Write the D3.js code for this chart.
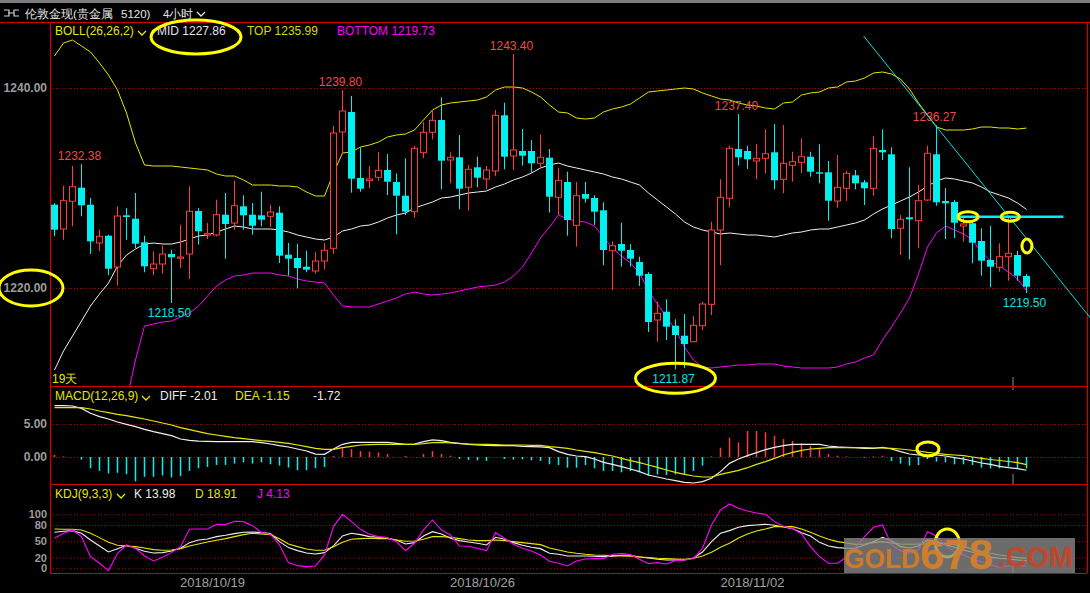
<!DOCTYPE html>
<html>
<head>
<meta charset="utf-8">
<script src="https://cdn.jsdelivr.net/npm/d3@7"></script>
<style>
  html, body { margin: 0; padding: 0; background: #000; overflow: hidden; }
  text { font-family: "Liberation Sans", Arial, sans-serif; }
</style>
</head>
<body>
<svg id="chart" width="1090" height="593"></svg>
<script>
// 4h candles
const open = [1228.33,1225.90,1228.67,1230.03,1228.33,1224.50,1225.23,1222.10,1227.27,1226.93,1224.57,
  1221.93,1222.40,1223.40,1222.97,1223.40,1227.70,1225.30,1225.30,1227.33,1226.50,1228.17,
  1227.33,1227.27,1227.17,1227.53,1223.33,1223.00,1222.13,1221.70,1222.70,1223.97,1235.60,
  1237.60,1231.00,1230.73,1231.07,1231.80,1230.60,1229.23,1227.63,1233.53,1235.57,1236.80,
  1232.80,1233.07,1230.07,1232.07,1230.90,1231.70,1237.27,1233.20,1233.70,1233.70,1232.47,
  1233.03,1229.07,1230.60,1226.27,1229.40,1229.00,1227.77,1223.73,1224.40,1223.80,1222.60,
  1221.40,1216.80,1217.63,1216.23,1215.23,1214.63,1216.23,1218.37,1225.80,1228.97,1233.90,
  1233.70,1232.70,1232.97,1233.57,1230.87,1232.27,1232.57,1233.13,1231.57,1231.57,1228.70,
  1229.97,1231.27,1230.57,1229.97,1233.80,1233.37,1225.97,1227.07,1226.73,1228.80,1233.37,
  1228.70,1228.60,1226.20,1226.47,1224.70,1222.80,1222.07,1223.13,1223.30,1221.20]
const high = [1228.50,1230.23,1232.20,1232.38,1229.00,1225.83,1225.33,1228.17,1228.00,1229.50,1225.23,
  1223.67,1224.23,1223.83,1226.33,1230.17,1228.00,1226.50,1228.83,1229.50,1230.73,1229.27,
  1228.50,1229.63,1228.33,1228.17,1224.50,1224.43,1223.73,1223.63,1224.50,1236.23,1239.80,
  1239.20,1234.07,1232.20,1233.57,1233.40,1231.47,1232.97,1234.20,1236.57,1237.80,1239.07,
  1233.57,1235.30,1232.30,1233.13,1232.20,1237.80,1238.53,1243.40,1235.90,1234.80,1235.37,
  1233.90,1232.03,1231.63,1230.63,1230.60,1229.27,1228.57,1224.67,1226.53,1224.37,1223.13,
  1221.57,1218.63,1218.87,1216.87,1217.40,1217.20,1218.63,1226.63,1230.87,1234.23,1237.40,
  1234.23,1234.40,1235.87,1236.40,1236.30,1233.63,1234.97,1233.63,1234.37,1232.70,1233.30,
  1231.73,1231.80,1230.80,1235.20,1235.87,1234.07,1227.30,1232.07,1230.33,1234.23,1236.27,
  1230.00,1228.80,1227.13,1226.80,1225.97,1226.20,1224.47,1227.13,1223.70,1221.40]
const low = [1225.17,1224.83,1226.17,1227.17,1223.40,1223.67,1221.27,1220.27,1224.83,1224.00,1221.57,
  1221.27,1221.43,1218.50,1222.00,1220.90,1224.33,1224.90,1225.17,1222.93,1225.83,1225.83,
  1225.33,1226.17,1226.10,1222.50,1221.23,1219.97,1221.57,1221.43,1221.83,1223.43,1233.33,
  1229.53,1229.63,1229.97,1230.73,1229.30,1225.37,1227.30,1227.03,1232.97,1234.87,1229.87,
  1230.47,1227.87,1227.73,1230.07,1229.87,1231.20,1231.87,1231.80,1232.23,1231.53,1231.97,
  1227.53,1227.30,1225.23,1224.13,1228.53,1226.30,1222.27,1219.80,1222.13,1222.13,1220.20,
  1215.60,1214.63,1214.80,1211.87,1212.00,1214.57,1215.80,1217.30,1222.27,1228.07,1232.23,
  1231.90,1230.87,1231.47,1229.87,1229.47,1230.63,1231.47,1231.13,1230.47,1226.73,1228.03,
  1228.70,1229.87,1228.30,1229.23,1232.80,1224.97,1223.30,1222.87,1223.97,1228.70,1228.23,
  1224.90,1225.00,1224.63,1222.47,1221.23,1220.07,1221.63,1220.73,1220.73,1219.50]
const close = [1225.83,1228.73,1230.13,1228.27,1224.67,1225.17,1221.93,1227.20,1227.10,1224.43,1222.17,
  1222.40,1223.40,1223.07,1223.10,1227.67,1225.67,1225.43,1227.33,1226.40,1228.23,1227.27,
  1226.23,1226.83,1227.60,1223.23,1222.93,1222.00,1221.83,1222.70,1223.77,1235.50,1237.70,
  1230.93,1229.93,1230.90,1231.77,1230.63,1229.23,1227.63,1233.97,1235.57,1236.77,1232.73,
  1233.07,1229.93,1231.87,1231.03,1231.80,1237.27,1233.13,1233.80,1233.23,1232.47,1233.07,
  1229.13,1230.77,1226.80,1229.23,1228.93,1227.63,1223.80,1224.23,1223.73,1222.93,1221.23,
  1216.60,1217.47,1216.13,1215.30,1214.40,1216.27,1218.40,1225.80,1229.07,1233.97,1233.07,
  1232.87,1232.97,1233.43,1230.77,1232.47,1232.63,1233.13,1231.63,1231.43,1228.73,1230.07,
  1231.47,1230.47,1229.97,1233.97,1233.57,1225.90,1226.87,1226.87,1228.73,1233.47,1228.57,
  1228.47,1226.53,1226.40,1224.53,1222.73,1222.13,1223.13,1223.47,1221.23,1220.13]

// BOLL(26,26,2)
const bollTop = [1243.2,1244.5,1244.8,1244.2,1243.6,1242.5,1241.3,1239.8,1237.5,1234.5,1232.3,
  1232.2,1232.2,1232.2,1232.1,1232.0,1231.9,1231.8,1231.4,1231.2,1231.2,1230.8,
  1230.3,1230.3,1230.3,1230.2,1230.2,1230.1,1229.6,1229.2,1229.2,1231.5,1233.5,
  1233.6,1234.1,1234.3,1234.6,1235.1,1235.3,1235.4,1235.8,1236.8,1237.8,1238.3,
  1238.5,1238.6,1238.7,1238.8,1239.1,1239.8,1240.1,1240.1,1240.0,1239.6,1239.1,
  1238.3,1237.6,1237.5,1237.0,1236.9,1237.0,1237.6,1237.9,1238.1,1238.4,1239.0,
  1239.6,1239.7,1239.8,1239.9,1240.0,1239.9,1239.5,1239.2,1238.9,1238.8,1238.5,
  1238.3,1238.2,1238.0,1237.9,1238.5,1238.6,1239.3,1239.5,1239.6,1240.0,1240.1,
  1240.6,1240.7,1241.0,1241.5,1241.6,1241.4,1240.9,1239.9,1238.5,1237.3,1236.1,
  1235.8,1235.8,1235.8,1235.9,1236.1,1236.1,1236.0,1236.0,1235.9,1235.99]
const bollMid = [1211.8,1213.7,1215.2,1216.7,1218.2,1219.4,1220.5,1222.2,1223.3,1223.9,1224.4,
  1224.5,1224.4,1224.4,1224.6,1224.9,1225.2,1225.3,1225.6,1225.9,1226.2,1226.1,
  1225.9,1225.9,1225.9,1225.8,1225.6,1225.3,1225.1,1224.9,1224.8,1225.1,1225.7,
  1225.9,1226.2,1226.3,1226.6,1227.0,1227.3,1227.5,1228.0,1228.3,1228.6,1229.0,
  1229.1,1229.3,1229.5,1229.6,1229.7,1230.1,1230.4,1230.8,1231.1,1231.5,1232.0,
  1232.3,1232.5,1232.2,1232.0,1231.8,1231.6,1231.4,1231.1,1230.9,1230.6,1230.3,
  1229.5,1228.8,1228.1,1227.4,1226.6,1226.1,1225.8,1225.6,1225.4,1225.5,1225.4,
  1225.3,1225.3,1225.2,1225.1,1225.3,1225.5,1225.6,1225.8,1225.9,1225.9,1226.1,
  1226.3,1226.5,1226.8,1227.4,1227.9,1228.3,1228.7,1229.1,1229.6,1230.2,1230.7,
  1231.0,1230.9,1230.7,1230.5,1230.1,1229.6,1229.3,1229.0,1228.5,1227.86]
const bollBot = [null,null,null,null,null,null,null,null,1208.7,1212.8,1216.2,
  1216.4,1216.6,1216.7,1217.1,1217.5,1218.2,1219.2,1220.2,1220.8,1221.2,1221.3,
  1221.5,1221.5,1221.5,1221.3,1221.2,1220.9,1220.7,1220.6,1220.5,1219.3,1218.2,
  1218.1,1218.1,1218.1,1218.4,1218.7,1219.0,1219.4,1219.6,1219.4,1219.3,1219.4,
  1219.5,1219.7,1219.9,1220.1,1220.2,1220.3,1220.6,1221.2,1222.1,1223.5,1225.0,
  1226.1,1227.3,1226.9,1226.7,1226.6,1226.2,1225.1,1224.0,1223.2,1222.5,1221.5,
  1219.7,1218.4,1217.1,1215.8,1214.1,1212.8,1212.1,1212.0,1212.1,1212.2,1212.3,
  1212.3,1212.4,1212.4,1212.4,1212.2,1212.1,1212.0,1212.0,1212.0,1212.0,1212.1,
  1212.4,1212.6,1213.0,1213.3,1214.8,1216.1,1217.5,1219.0,1221.4,1224.1,1225.5,
  1226.2,1225.8,1225.4,1224.8,1223.6,1222.7,1222.2,1221.6,1220.9,1219.73]

// MACD(12,26,9)
const macdDiff = [7.78,7.78,7.73,7.37,6.62,6.11,5.76,5.30,4.95,4.60,4.19,
  3.84,3.54,3.23,2.73,2.53,2.42,2.37,2.32,2.32,2.32,2.32,
  2.32,2.17,1.97,1.72,1.52,1.21,0.91,0.45,0.40,1.21,1.92,
  2.22,2.22,2.22,2.22,2.22,2.07,1.92,1.97,2.32,2.58,2.47,
  2.22,2.07,1.92,1.82,1.77,1.72,1.72,1.72,1.62,1.57,1.52,
  1.41,0.81,0.40,0.15,0.05,-0.30,-0.81,-1.11,-1.46,-1.82,-2.22,
  -2.73,-3.03,-3.33,-3.59,-3.84,-3.94,-3.74,-3.23,-2.22,-0.96,-0.30,
  0.20,0.66,1.11,1.46,1.72,1.92,1.92,1.92,1.92,1.67,1.52,
  1.46,1.41,1.31,1.31,1.46,1.21,0.81,0.45,0.30,0.30,0.30,
  0.15,-0.10,-0.30,-0.61,-0.91,-1.11,-1.41,-1.62,-1.77,-2.01]
const macdDea = [7.47,7.47,7.47,7.47,7.27,6.97,6.72,6.46,6.26,6.01,5.76,
  5.45,5.15,4.85,4.44,4.14,3.84,3.54,3.33,3.13,2.93,2.78,
  2.63,2.47,2.37,2.22,2.07,1.82,1.57,1.31,1.16,1.16,1.41,
  1.62,1.82,1.87,1.92,1.92,1.92,1.92,1.92,2.02,2.17,2.22,
  2.12,2.02,1.97,1.92,1.92,1.87,1.82,1.82,1.82,1.77,1.77,
  1.57,1.46,1.31,1.06,0.86,0.66,0.40,0.15,-0.20,-0.56,-0.86,
  -1.21,-1.57,-1.97,-2.32,-2.63,-2.88,-3.03,-3.03,-2.63,-2.32,-2.02,
  -1.62,-1.11,-0.71,-0.20,0.30,0.71,1.01,1.21,1.31,1.41,1.41,
  1.41,1.41,1.41,1.36,1.36,1.31,1.21,1.06,0.91,0.71,0.56,
  0.40,0.30,0.20,0.00,-0.20,-0.38,-0.53,-0.68,-0.85,-1.15]
const macdHist = [0.3,0.1,0,-0.4,-1.7,-2.1,-2.5,-2.4,-2.6,-3.7,-3.0,
  -3.0,-2.8,-3.1,-2.9,-2.1,-1.7,-1.5,-1.2,-1.2,-1.0,-0.8,
  -1.0,-0.8,-1.1,-1.3,-1.6,-2.0,-2.0,-1.7,-1.5,0.15,1.3,
  1.2,0.9,0.8,0.7,0.45,0,0.15,0,0.45,0.9,0.45,
  0.2,-0.3,-0.45,-0.5,-0.6,0,-0.3,-0.4,-0.35,-0.5,-0.6,
  -1.11,-1.21,-1.62,-1.62,-1.21,-1.72,-2.12,-2.12,-2.32,-2.12,-2.32,
  -2.83,-2.63,-2.73,-2.63,-2.63,-2.12,-1.31,0.1,1.41,2.93,2.22,
  3.94,3.94,3.74,3.23,2.73,2.42,2.07,1.67,1.16,0.45,0.20,
  0.10,0,-0.10,0.10,0.20,-0.61,-1.01,-1.31,-1.21,-0.30,-0.71,
  -0.81,-1.11,-1.11,-1.21,-1.62,-1.72,-1.72,-1.46,-1.72,-1.72]

// KDJ(9,3,3)
const kdjK = [66.7,68.5,69.8,64.8,52.5,41.4,30.2,36.4,42.6,37.0,31.5,
  28.4,29.0,32.1,37.0,47.5,52.5,54.3,58.6,61.1,64.2,66.7,
  67.3,66.0,64.2,49.4,38.3,32.7,28.4,26.5,29.0,41.4,59.9,
  64.8,62.3,58.6,57.4,55.6,52.5,45.1,47.5,59.9,67.9,63.6,
  55.6,51.2,48.8,46.3,43.2,57.4,53.7,47.5,42.6,38.9,36.4,
  27.8,25.9,22.8,22.8,22.8,22.2,21.6,22.2,24.1,24.1,21.0,
  19.1,16.7,15.4,15.4,15.4,19.1,30.2,49.4,64.8,69.8,75.9,
  79.0,80.2,81.5,79.6,76.5,73.5,66.0,59.9,48.1,41.4,38.3,
  37.0,37.0,43.2,49.4,57.4,50.6,40.1,37.7,41.4,52.5,49.4,
  43.8,38.9,34.0,29.6,24.7,20.4,18.5,17.3,15.4,13.98]
const kdjD = [72.8,72.2,72.2,71.0,64.8,56.8,48.1,42.6,41.4,40.1,37.7,
  34.6,33.3,34.0,36.4,41.4,45.1,48.8,51.9,54.9,58.6,62.3,
  64.8,63.6,62.3,54.9,45.1,40.1,35.8,33.3,33.3,40.1,48.1,
  53.7,54.9,55.6,54.9,54.9,52.5,50.0,50.6,53.7,58.6,58.6,
  57.4,54.9,52.5,51.2,51.2,52.5,51.2,49.4,47.5,45.7,43.8,
  37.7,34.0,30.2,27.8,25.9,24.7,24.1,23.5,22.8,22.2,21.0,
  19.8,18.5,17.9,17.3,16.7,18.5,22.8,29.6,38.9,46.3,56.2,
  63.6,69.1,72.8,77.2,77.2,77.2,72.8,66.7,59.9,53.7,49.4,
  46.9,44.4,45.1,47.5,49.4,46.9,45.1,44.4,45.1,45.1,45.7,
  46.3,43.8,40.1,35.8,31.5,27.8,24.7,22.2,19.8,18.91]
const kdjJ = [55.6,64.8,71.0,58.6,21.6,9.3,-4.3,27.8,43.2,37.0,22.8,
  13.6,20.4,29.0,40.1,72.2,72.8,72.8,81.5,80.9,87.0,86.4,
  79.0,66.0,63.0,43.2,10.5,4.9,3.1,4.3,24.7,77.2,100.0,
  86.4,72.2,63.0,58.6,56.8,49.4,32.7,46.3,71.0,89.5,71.0,
  61.7,41.4,40.7,37.0,32.7,66.0,55.6,44.4,37.0,32.1,24.7,
  13.0,9.3,4.3,13.6,17.3,17.9,17.9,25.9,27.2,25.3,16.7,
  8.6,10.5,8.0,14.2,15.4,17.9,37.0,80.2,108.0,119.1,111.1,
  106.2,102.5,100.0,86.4,77.8,73.5,63.6,40.1,21.6,9.3,9.3,
  20.4,37.7,58.6,75.9,80.2,43.2,32.7,27.8,34.0,67.9,59.9,
  42.0,30.9,24.7,17.3,12.3,6.2,1.9,4.3,4.3,4.13]

const dateLabels = ['2018/10/19', '2018/10/26', '2018/11/02']
const dateIdx = [18, 48, 78]
const priceTicks = [1240, 1220]
const macdTicks = [5, 0]
const kdjTicks = [100, 80, 50, 20, 0]
const highMarks = [3, 32, 51, 76, 98]
const lowMarks = [13, 69, 108]

const N = close.length
const svg = d3.select('#chart')
const left = 50, right = 1087
const panels = {main: [22, 386], macd: [386, 484], kdj: [484, 573]}

const x = d3.scaleLinear().domain([0, N]).range([left, left + 9 * N])
const cx = i => x(i + 0.5)
const yP = d3.scaleLinear().domain([1220, 1240]).range([288, 88])
const yM = d3.scaleLinear().domain([0, 5]).range([457, 424])
const yK = d3.scaleLinear().domain([0, 100]).range([568.3, 514.3])

const RED = '#ff3c3c', CYAN = '#00f0f0', YEL = '#e6e600', MAG = '#ff00ff', WHITE = '#f0f0f0'
const CJK = '"Noto Sans CJK SC", sans-serif'

//background + frame
svg.append('rect').attr('width', 1090).attr('height', 593).attr('fill', '#000')
svg.append('rect').attr('width', 1090).attr('height', 3).attr('fill', '#7c7c7c')

const defs = svg.append('defs')
Object.entries(panels).forEach(([k, [t, b]]) => {
  defs.append('clipPath').attr('id', 'clip-' + k)
    .append('rect').attr('x', left).attr('y', t + 1).attr('width', right - left).attr('height', b - t - 1)
})

//gridlines + left labels through d3 axes
function yAxis(scale, ticks, fmt, size) {
  const g = svg.append('g').attr('transform', `translate(${left},0)`)
    .call(d3.axisLeft(scale).tickValues(ticks).tickFormat(fmt).tickSize(-(right - left)).tickPadding(3))
  g.select('.domain').remove()
  g.selectAll('line').attr('stroke', '#b40000').attr('stroke-dasharray', '1,2')
  g.selectAll('text').attr('fill', '#9c9c9c').attr('font-weight', 'bold')
    .attr('font-size', size).attr('font-family', '"Liberation Sans", Arial, sans-serif')
  return g
}
yAxis(yP, priceTicks, d3.format('.2f'), 12)
yAxis(yM, macdTicks, d3.format('.2f'), 12)
yAxis(yK, kdjTicks, d3.format('d'), 11)

//date axis
const xa = svg.append('g').attr('transform', `translate(0,${panels.kdj[1]})`)
  .call(d3.axisBottom(x).tickValues(dateIdx).tickFormat((d, i) => dateLabels[i]).tickSize(0).tickPadding(5))
xa.select('.domain').remove()
xa.selectAll('text').attr('fill', '#a0a0a0').attr('font-size', 13)
  .attr('font-family', '"Liberation Sans", Arial, sans-serif')

//panel borders
const border = svg.append('g').attr('stroke', '#d20000').attr('stroke-width', 1.2)
border.append('line').attr('x1', 0).attr('x2', 1090).attr('y1', 22.5).attr('y2', 22.5)
;[panels.main[1], panels.macd[1], panels.kdj[1]].forEach(y => {
  border.append('line').attr('x1', left).attr('x2', right).attr('y1', y + 0.5).attr('y2', y + 0.5)
})
border.append('line').attr('x1', left + 0.5).attr('x2', left + 0.5).attr('y1', 22).attr('y2', panels.kdj[1])
border.append('line').attr('x1', right + 0.5).attr('x2', right + 0.5).attr('y1', 22).attr('y2', panels.kdj[1])

//cursor ticks
const cur = x(N - 2)
svg.append('g').attr('stroke', '#8a8a8a').selectAll('line')
  .data([[377, 386], [387, 390], [474, 484], [565, 573]]).join('line')
  .attr('x1', cur).attr('x2', cur).attr('y1', d => d[0]).attr('y2', d => d[1])

//main panel
const main = svg.append('g').attr('clip-path', 'url(#clip-main)')
const idx = d3.range(N)
const lineOf = (arr, ys) => d3.line().defined(i => arr[i] != null).x(i => cx(i)).y(i => ys(arr[i]))

;[[bollTop, YEL], [bollMid, WHITE], [bollBot, MAG]].forEach(([arr, c]) => {
  main.append('path').attr('d', lineOf(arr, yP)(idx)).attr('fill', 'none').attr('stroke', c).attr('stroke-width', 1)
})

const up = i => close[i] >= open[i]
const candles = main.append('g')
candles.selectAll('line.wick-hi').data(idx).join('line')
  .attr('x1', i => cx(i)).attr('x2', i => cx(i))
  .attr('y1', i => yP(high[i]))
  .attr('y2', i => up(i) ? yP(close[i]) : yP(low[i]))
  .attr('stroke', i => up(i) ? RED : CYAN)
candles.selectAll('line.wick-lo').data(idx.filter(up)).join('line')
  .attr('x1', i => cx(i)).attr('x2', i => cx(i))
  .attr('y1', i => yP(open[i])).attr('y2', i => yP(low[i]))
  .attr('stroke', RED)
candles.selectAll('rect').data(idx).join('rect')
  .attr('x', i => up(i) ? cx(i) - 3 : cx(i) - 3.5)
  .attr('width', i => up(i) ? 6 : 7)
  .attr('y', i => yP(Math.max(open[i], close[i])))
  .attr('height', i => Math.max(1, yP(Math.min(open[i], close[i])) - yP(Math.max(open[i], close[i]))))
  .attr('fill', i => up(i) ? '#000' : CYAN)
  .attr('stroke', i => up(i) ? RED : 'none')

const lab = svg.append('g').attr('font-size', 12).attr('text-anchor', 'middle')
lab.selectAll('text.hi').data(highMarks).join('text')
  .attr('x', i => cx(i) - 2).attr('y', i => yP(high[i]) - 4)
  .attr('fill', '#f04848').text(i => high[i].toFixed(2))
lab.selectAll('text.lo').data(lowMarks).join('text')
  .attr('x', i => cx(i) - 2).attr('y', i => yP(low[i]) + 14)
  .attr('fill', '#00e6e6').text(i => low[i].toFixed(2))

svg.append('text').attr('x', 52).attr('y', 383).attr('font-size', 12).attr('fill', YEL).text('19天')

//MACD panel
const macd = svg.append('g').attr('clip-path', 'url(#clip-macd)')
macd.selectAll('line').data(idx).join('line')
  .attr('x1', i => cx(i)).attr('x2', i => cx(i))
  .attr('y1', yM(0)).attr('y2', i => yM(macdHist[i]))
  .attr('stroke', i => macdHist[i] >= 0 ? RED : CYAN).attr('stroke-width', 1.5)
;[[macdDiff, WHITE], [macdDea, YEL]].forEach(([arr, c]) => {
  macd.append('path').attr('d', lineOf(arr, yM)(idx)).attr('fill', 'none').attr('stroke', c).attr('stroke-width', 1.2)
})

//KDJ panel
const kdj = svg.append('g').attr('clip-path', 'url(#clip-kdj)')
;[[kdjK, WHITE], [kdjD, YEL], [kdjJ, MAG]].forEach(([arr, c]) => {
  kdj.append('path').attr('d', lineOf(arr, yK)(idx)).attr('fill', 'none').attr('stroke', c).attr('stroke-width', 1.1)
})

//legends
function legend(y, items) {
  const g = svg.append('g').attr('font-size', 12)
  items.forEach(([tx, lx, c]) => g.append('text').attr('x', lx).attr('y', y).attr('fill', c).text(tx))
  return g
}
function chevron(x0, y0, c) {
  svg.append('path').attr('d', `M${x0},${y0} l4,4 l4,-4`).attr('fill', 'none').attr('stroke', c).attr('stroke-width', 1.3)
}
legend(35, [['BOLL(26,26,2)', 55, YEL], ['MID ' + bollMid[N - 1].toFixed(2), 157, '#e0e0f0'],
  ['TOP ' + bollTop[N - 1].toFixed(2), 247, '#d4dc00'], ['BOTTOM ' + bollBot[N - 1].toFixed(2), 337, MAG]])
chevron(138, 31, YEL)
legend(400, [['MACD(12,26,9)', 55, YEL], ['DIFF ' + macdDiff[N - 1].toFixed(2), 160, WHITE],
  ['DEA ' + macdDea[N - 1].toFixed(2), 235, YEL], [macdHist[N - 1].toFixed(2), 313, WHITE]])
chevron(142, 396, YEL)
legend(498, [['KDJ(9,3,3)', 55, YEL], ['K ' + kdjK[N - 1].toFixed(2), 134, WHITE],
  ['D ' + kdjD[N - 1].toFixed(2), 195, YEL], ['J ' + kdjJ[N - 1].toFixed(2), 257, MAG]])
chevron(117, 494, YEL)

//header
svg.append('path').attr('d', 'M4,10h5v6h-5 M8,13h6 M19,10h-5v6h5')
  .attr('fill', 'none').attr('stroke', '#d0d0d0').attr('stroke-width', 1.2)
const head = svg.append('g').attr('font-size', 11.5).attr('fill', '#e6e6e6').attr('font-family', CJK)
;[['伦敦金现', 25], ['(贵金属', 73], ['5120)', 121], ['4小时', 163]].forEach(([t, hx]) => {
  head.append('text').attr('x', hx).attr('y', 17.5).text(t)
})
chevron(197, 12, '#e6e6e6')

//hand-drawn annotations
const ann = svg.append('g')
ann.append('line').attr('x1', x(90.4)).attr('y1', yP(1245.2)).attr('x2', x(115.6)).attr('y2', yP(1217.0))
  .attr('stroke', '#00e0e0').attr('stroke-width', 1)
ann.append('line').attr('x1', x(100.9)).attr('y1', yP(1227.13)).attr('x2', x(112.6)).attr('y2', yP(1227.13))
  .attr('stroke', CYAN).attr('stroke-width', 2.5)

const rings = [
  [196, 37, 45, 17],
  [31, yP(1220), 32, 18],
  [cx(69), yP(low[69]) + 9, 40, 15],
  [x(102), yP(1227.13), 10, 5],
  [x(106.7), yP(1227.13), 9, 4.5],
  [x(108.55), yP(1224.2), 5, 7],
  [x(97.55), yM(1.21), 11, 7],
  [x(99.7), yK(46.9), 12, 14]
]
ann.selectAll('ellipse').data(rings).join('ellipse')
  .attr('cx', d => d[0]).attr('cy', d => d[1]).attr('rx', d => d[2]).attr('ry', d => d[3])
  .attr('fill', 'none').attr('stroke', '#ffff00').attr('stroke-width', 3)

//watermark
svg.append('rect').attr('x', 844).attr('y', 538).attr('width', 231).attr('height', 35)
  .attr('fill', '#8a8a8a').attr('opacity', 0.78)
const wm = svg.append('g').attr('font-weight', 'bold').attr('opacity', 0.9)
wm.append('text').attr('x', 844).attr('y', 568).attr('font-size', 28).attr('fill', '#d87c22')
  .attr('textLength', 76).attr('lengthAdjust', 'spacingAndGlyphs').text('GOLD')
wm.append('text').attr('x', 920).attr('y', 569).attr('font-size', 42).attr('fill', '#d88028')
  .attr('textLength', 73).attr('lengthAdjust', 'spacingAndGlyphs').text('678')
wm.append('text').attr('x', 998).attr('y', 567).attr('font-size', 29).attr('fill', '#cc4226')
  .attr('textLength', 75).attr('lengthAdjust', 'spacingAndGlyphs').text('.COM')
</script>
</body>
</html>
